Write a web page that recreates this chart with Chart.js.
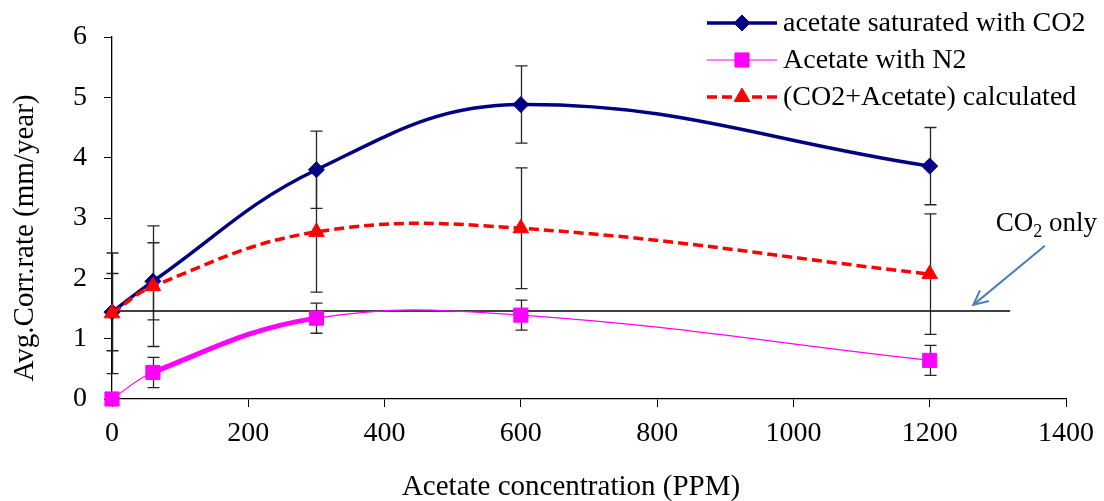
<!DOCTYPE html>
<html><head><meta charset="utf-8">
<script src="https://cdn.jsdelivr.net/npm/chart.js@4"></script>
<style>html,body{margin:0;padding:0;background:#fff}canvas{display:block}</style>
</head><body>
<canvas id="c" width="1104" height="501"></canvas>
<script>
// ---- data ----
const concentrations = [0, 60, 300, 600, 1200];
const co2Saturated = [1.44, 1.95, 3.80, 4.88, 3.86];
const co2SaturatedErr = [0.64, 0.64, 0.64, 0.64, 0.64];
const n2Acetate = [0.0, 0.44, 1.34, 1.39, 0.64];
const n2AcetateErr = [0, 0.25, 0.25, 0.25, 0.25];
const calculated = [1.42, 1.87, 2.77, 2.83, 2.07];
const calculatedErr = [1.0, 1.0, 1.0, 1.0, 1.0];
const co2OnlyX = [0, 1318];
const co2OnlyY = [1.46, 1.46];
const seriesNames = ['acetate saturated with CO2', 'Acetate with N2', '(CO2+Acetate) calculated'];
const xTicks = [0, 200, 400, 600, 800, 1000, 1200, 1400];
const yTicks = [0, 1, 2, 3, 4, 5, 6];
const xTitle = 'Acetate concentration (PPM)';
const yTitle = 'Avg.Corr.rate (mm/year)';

const FONT = 'Liberation Serif, Times New Roman, serif';
const BLUE = '#000080', PINK = '#ff00ff', RED = '#ff0000';

const pts = (xs, ys) => xs.map((v, i) => ({x: v, y: ys[i]}));

const errorBars = {
  id: 'errorBars',
  beforeDatasetsDraw(chart) {
    const {ctx, scales: {x, y}, chartArea: a} = chart;
    ctx.save();
    ctx.beginPath(); ctx.rect(a.left - 20, a.top - 5, a.width + 40, a.height + 5); ctx.clip();
    ctx.strokeStyle = '#262626'; ctx.lineWidth = 1.3;
    [[co2Saturated, co2SaturatedErr], [n2Acetate, n2AcetateErr], [calculated, calculatedErr]].forEach(([vals, errs]) => {
      vals.forEach((v, i) => {
        if (!errs[i]) return;
        const px = Math.round(x.getPixelForValue(concentrations[i])) + 0.5;
        const t = y.getPixelForValue(v + errs[i]);
        const b = y.getPixelForValue(v - errs[i]);
        ctx.beginPath();
        ctx.moveTo(px, t); ctx.lineTo(px, b);
        ctx.moveTo(px - 6, t); ctx.lineTo(px + 6, t);
        ctx.moveTo(px - 6, b); ctx.lineTo(px + 6, b);
        ctx.stroke();
      });
    });
    ctx.restore();
  }
};

const extras = {
  id: 'extras',
  afterDraw(chart) {
    const {ctx, scales: {x, y}} = chart;
    ctx.save();
    ctx.fillStyle = '#000';
    // axis titles
    ctx.font = '29px ' + FONT;
    ctx.textAlign = 'center'; ctx.textBaseline = 'middle';
    ctx.fillText(xTitle, 571, 487);
    ctx.save(); ctx.translate(25, 238); ctx.rotate(-Math.PI / 2);
    ctx.fillText(yTitle, 0, 0); ctx.restore();

    // CO2 only annotation
    const ax0 = x.getPixelForValue(1369), ay0 = y.getPixelForValue(2.54);
    const ax1 = x.getPixelForValue(1264), ay1 = y.getPixelForValue(1.56);
    ctx.strokeStyle = '#4a7ebb'; ctx.lineWidth = 2;
    ctx.beginPath(); ctx.moveTo(ax0, ay0); ctx.lineTo(ax1, ay1); ctx.stroke();
    const ang = Math.atan2(ay1 - ay0, ax1 - ax0);
    ctx.beginPath();
    ctx.moveTo(ax1 - 16 * Math.cos(ang - 0.45), ay1 - 16 * Math.sin(ang - 0.45));
    ctx.lineTo(ax1, ay1);
    ctx.lineTo(ax1 - 16 * Math.cos(ang + 0.45), ay1 - 16 * Math.sin(ang + 0.45));
    ctx.stroke();
    let tx = x.getPixelForValue(1297), ty = y.getPixelForValue(2.79);
    ctx.textAlign = 'left'; ctx.textBaseline = 'alphabetic';
    ctx.font = '27px ' + FONT;
    ctx.fillText('CO', tx, ty); tx += ctx.measureText('CO').width;
    ctx.font = '18px ' + FONT;
    ctx.fillText('2', tx, ty + 6); tx += ctx.measureText('2').width;
    ctx.font = '27px ' + FONT;
    ctx.fillText(' only', tx, ty);

    // legend
    const rows = [
      {c: BLUE, w: 3.5, dash: [], style: 'rectRot', r: 8},
      {c: PINK, w: 1.2, dash: [], style: 'rect', r: 10},
      {c: RED, w: 3.5, dash: [10, 5], style: 'triangle', r: 9}
    ];
    rows.forEach((s, i) => {
      const yy = 23 + i * 37;
      ctx.strokeStyle = s.c; ctx.lineWidth = s.w; ctx.setLineDash(s.dash);
      ctx.beginPath(); ctx.moveTo(707, yy); ctx.lineTo(777, yy); ctx.stroke();
      ctx.setLineDash([]);
      ctx.fillStyle = s.c; ctx.strokeStyle = s.c; ctx.lineWidth = 1;
      Chart.helpers.drawPoint(ctx, {pointStyle: s.style, radius: s.r, rotation: 0, borderWidth: 1}, 742, yy);
      ctx.fillStyle = '#000';
      ctx.font = '28px ' + FONT; ctx.textBaseline = 'middle';
      ctx.fillText(seriesNames[i], 783, yy + 1);
    });
    ctx.restore();
  }
};

new Chart(document.getElementById('c'), {
  type: 'line',
  data: {
    datasets: [
      {label: seriesNames[0], data: pts(concentrations, co2Saturated), borderColor: BLUE, backgroundColor: BLUE,
       borderWidth: 3.5, tension: 0.4, pointStyle: 'rectRot', pointRadius: 8, pointBorderWidth: 1, clip: false, order: 3},
      {label: seriesNames[1], data: pts(concentrations, n2Acetate), borderColor: PINK, backgroundColor: PINK,
       borderWidth: 1.2, tension: 0.4, pointStyle: 'rect', pointRadius: 10, pointBorderWidth: 1, clip: false, order: 2,
       segment: {borderWidth: c => c.p0DataIndex === 1 ? 5 : 1.2}},
      {label: seriesNames[2], data: pts(concentrations, calculated), borderColor: RED, backgroundColor: RED,
       borderWidth: 3.5, borderDash: [10, 5], tension: 0.4, pointStyle: 'triangle', pointRadius: 9, pointBorderWidth: 1, clip: false, order: 1},
      {label: 'CO2 only', data: pts(co2OnlyX, co2OnlyY), borderColor: '#000', borderWidth: 1.5, pointRadius: 0, order: 4, clip: false}
    ]
  },
  options: {
    responsive: false, animation: false, devicePixelRatio: 1,
    layout: {padding: {left: 0, right: 36, top: 37, bottom: 0}},
    plugins: {legend: {display: false}, tooltip: {enabled: false}},
    elements: {point: {hoverRadius: 0}},
    scales: {
      x: {type: 'linear', min: 0, max: 1400,
          afterBuildTicks: s => { s.ticks = xTicks.map(v => ({value: v})); },
          afterFit: s => { s.height = 102; },
          ticks: {font: {family: FONT, size: 28}, color: '#000', padding: 10, maxRotation: 0, autoSkip: false,
                  callback: v => String(v)},
          grid: {drawOnChartArea: false, drawTicks: true, tickLength: 8, tickColor: '#000', color: '#000'},
          border: {color: '#000', width: 1.3}},
      y: {min: 0, max: 6,
          afterBuildTicks: s => { s.ticks = yTicks.map(v => ({value: v})); },
          afterFit: s => { s.width = 112; },
          ticks: {font: {family: FONT, size: 28}, color: '#000', padding: 17, callback: v => String(v)},
          grid: {drawOnChartArea: false, drawTicks: true, tickLength: 8, tickColor: '#000', color: '#000'},
          border: {color: '#000', width: 1.3}}
    }
  },
  plugins: [errorBars, extras]
});
</script>
</body></html>
